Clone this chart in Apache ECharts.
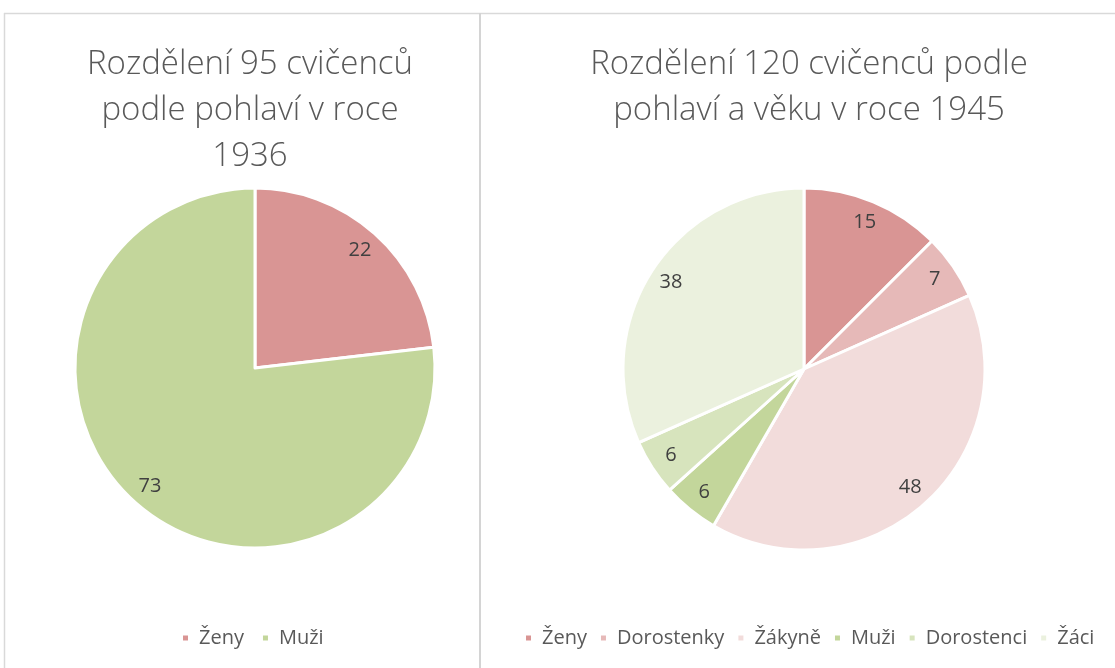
<!DOCTYPE html>
<html>
<head>
<meta charset="utf-8">
<script src="https://cdn.jsdelivr.net/npm/echarts@6/dist/echarts.min.js"></script>
<style>
html,body{margin:0;padding:0;background:#fff;}
#c{width:1115px;height:668px;}
</style>
</head>
<body>
<div id="c"></div>
<script>
const title1 = 'Rozdělení 95 cvičenců\npodle pohlaví v roce\n1936';
const title2 = 'Rozdělení 120 cvičenců podle\npohlaví a věku v roce 1945';
const categories1 = ['Ženy', 'Muži'];
const values1 = [22, 73];
const colors1 = ['#D99594', '#C3D69B'];
const categories2 = ['Ženy', 'Dorostenky', 'Žákyně', 'Muži', 'Dorostenci', 'Žáci'];
const values2 = [15, 7, 48, 6, 6, 38];
const colors2 = ['#D99594', '#E6B9B8', '#F2DCDB', '#C3D69B', '#D7E4BD', '#EBF1DE'];

const font = "'Open Sans', 'DejaVu Sans', sans-serif";
const toData = (cats, vals, cols) => cats.map((n, i) => ({ name: n, value: vals[i], itemStyle: { color: cols[i] } }));
const toLabelData = (cats, vals) => cats.map((n, i) => ({ name: n, value: vals[i] }));

const chart = echarts.init(document.getElementById('c'), null, { renderer: 'canvas' });

function pieSeries(center, r, data, labelData) {
  return [
    {
      type: 'pie', center: center, radius: [0, r], startAngle: 90, clockwise: true,
      data: data, label: { show: false }, labelLine: { show: false },
      itemStyle: { borderColor: '#ffffff', borderWidth: 3 }, emphasis: { disabled: true }, silent: true,
      animation: false
    },
    {
      type: 'pie', center: center, radius: [r * 0.72, r], startAngle: 90, clockwise: true,
      data: labelData, silent: true, animation: false, emphasis: { disabled: true },
      itemStyle: { color: 'rgba(0,0,0,0)', borderWidth: 0 },
      label: { show: true, position: 'inside', formatter: '{c}', color: '#404040', fontSize: 20, fontFamily: font },
      labelLine: { show: false }
    }
  ];
}

const legendText = { fontFamily: font, fontSize: 20, color: '#595959', padding: [0, 0, 0, 5] };

chart.setOption({
  backgroundColor: '#ffffff',
  animation: false,
  title: [
    { text: title1, left: 245, top: 37, textAlign: 'center',
      textStyle: { fontFamily: font, fontSize: 33, fontWeight: 300, color: '#595959', lineHeight: 46 } },
    { text: title2, left: 804, top: 37, textAlign: 'center',
      textStyle: { fontFamily: font, fontSize: 33, fontWeight: 300, color: '#595959', lineHeight: 46 } }
  ],
  legend: [
    { data: categories1, left: 176, top: 623, orient: 'horizontal', icon: 'rect', itemWidth: 7, itemHeight: 7,
      itemGap: 17, textStyle: legendText, selectedMode: false },
    { data: categories2, left: 519, top: 623, orient: 'horizontal', icon: 'rect', itemWidth: 7, itemHeight: 7,
      itemGap: 12, textStyle: legendText, selectedMode: false }
  ],
  graphic: [
    { type: 'line', shape: { x1: 4, y1: 13.5, x2: 1115, y2: 13.5 }, style: { stroke: '#d9d9d9', lineWidth: 1.5 } },
    { type: 'line', shape: { x1: 4.5, y1: 13, x2: 4.5, y2: 668 }, style: { stroke: '#d9d9d9', lineWidth: 1.5 } },
    { type: 'line', shape: { x1: 480, y1: 13, x2: 480, y2: 668 }, style: { stroke: '#d4d4d4', lineWidth: 2 } }
  ],
  series: [
    ...pieSeries([255, 368], 180, toData(categories1, values1, colors1), toLabelData(categories1, values1)),
    ...pieSeries([804, 369], 181, toData(categories2, values2, colors2), toLabelData(categories2, values2))
  ]
});
</script>
</body>
</html>
